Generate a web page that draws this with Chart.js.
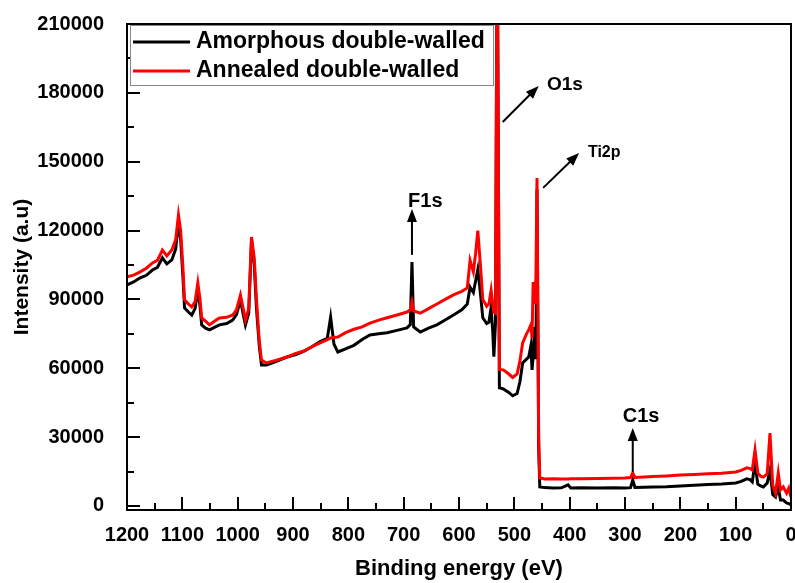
<!DOCTYPE html>
<html>
<head>
<meta charset="utf-8">
<script src="https://cdn.jsdelivr.net/npm/chart.js@4.4.1/dist/chart.umd.min.js"></script>
<style>
  body { margin: 0; background: #fff; }
  #wrap { width: 795px; height: 583px; }
</style>
</head>
<body>
<div id="wrap"><canvas id="xps" width="795" height="583"></canvas></div>
<script>
// binding energy (eV), shared by both spectra
var energy = [1200,1188,1177,1165,1154,1145,1136,1128,1119,1112,1107,1103,1099,1096,1089,1083,1077,1072,1068,1065,
  1058,1051,1042,1033,1020,1009,1002,995,990,986,980,975,970,966,961,957,948,930,911,895,880,865,852,838,832,826,819,
  805,790,775,761,745,730,712,694,688,685,682,670,655,640,625,610,595,585,580,574,570,566,561,557,550,546,542,539,537,
  534,531,527,520,510,503,495,490,485,478,474,470,468,466,463,461,459,456,454,445,430,415,403,398,380,350,320,300,290,
  286,282,265,250,225,200,175,150,125,100,90,80,74,70,65,60,55,50,43,38,33,28,23,19,14,8,4,0]

var amorphous = [96300,97600,99300,100500,102800,104000,108100,105500,107200,112000,123700,116000,100000,86300,84500,83200,86000,94100,87000,78900,
  77500,76700,77800,78900,79500,81000,83500,89800,83500,78900,84000,115900,105000,86000,70000,61400,61400,63000,64900,66000,67500,69500,71500,73000,82300,70500,67100,
  68500,70000,72500,74500,75000,75500,76500,77600,79000,106300,78000,75800,77500,78900,81000,83200,85500,88000,95300,93000,98000,103000,92000,82000,79500,80000,86500,76000,65000,
  80000,258000,51500,51000,49500,48000,49000,54000,62300,64000,64900,70000,59300,65000,78000,64000,138000,25000,8300,8000,7800,7900,9200,7800,7900,7800,7900,7800,8000,
  11300,8100,8200,8300,8400,8700,9000,9400,9600,10000,10700,11800,11500,10500,18700,9500,8800,8300,10000,15500,5000,3900,8300,2600,2600,1300,1000,500]

var annealed = [99800,100600,101900,103600,105900,107000,111500,109000,111500,116000,126800,120000,104000,89800,88000,86700,89000,97200,90000,81900,
  80500,78900,80500,81900,82200,83200,85500,91900,86000,81000,86000,117200,108000,89800,72000,63600,62300,63500,64900,66500,67500,69500,71000,72500,73200,73400,73600,
  75500,77000,78000,79700,81000,82000,83200,84500,85500,88900,85000,84000,86000,88000,90000,92000,93500,95000,107000,102000,110000,120000,104000,90000,87000,88000,94000,88000,84500,
  84000,260000,59500,59300,57500,56000,57500,63000,71000,75000,76700,79000,73000,97600,88000,100000,142900,30000,12200,11800,11900,11800,11800,11900,11900,12000,12100,12200,12400,
  14400,12400,12600,12800,13100,13500,13700,14000,14300,14800,15500,16600,16300,15700,24400,14400,13000,12600,14000,31800,9000,5600,14400,7000,8300,5600,7800,3900]

var seriesNames = ['Amorphous double-walled', 'Annealed double-walled']
var yTicks = [0, 30000, 60000, 90000, 120000, 150000, 180000, 210000]

// peak labels: arrow tail, arrow tip and text anchor in data units
var peaks = [
  { text: 'O1s',  from: [521, 167300], to: [456, 183000], at: [441, 183400], size: 19 },
  { text: 'Ti2p', from: [448, 138600], to: [383, 153800], at: [367, 153800], size: 16 },
  { text: 'F1s',  from: [685, 109400], to: [685, 129400], at: [692, 132500], size: 20 },
  { text: 'C1s',  from: [286, 14800],  to: [286, 34000],  at: [304, 38800],  size: 20 }
]

var FONT = '"Liberation Sans", Arial, sans-serif'

function toPoints(ys) {
  return energy.map(function (e, i) { return { x: e, y: ys[i] } })
}

function plain(v) { return String(v) }

function arrow(ctx, x1, y1, x2, y2) {
  var ang = Math.atan2(y2 - y1, x2 - x1)
  var hl = 13, hw = 5
  ctx.beginPath()
  ctx.moveTo(x1, y1)
  ctx.lineTo(x2 - Math.cos(ang) * hl * 0.8, y2 - Math.sin(ang) * hl * 0.8)
  ctx.stroke()
  ctx.beginPath()
  ctx.moveTo(x2, y2)
  ctx.lineTo(x2 - Math.cos(ang) * hl - Math.sin(ang) * hw, y2 - Math.sin(ang) * hl + Math.cos(ang) * hw)
  ctx.lineTo(x2 - Math.cos(ang) * hl + Math.sin(ang) * hw, y2 - Math.sin(ang) * hl - Math.cos(ang) * hw)
  ctx.closePath()
  ctx.fill()
}

var decor = {
  id: 'decor',
  afterDatasetsDraw: function (chart) {
    var ctx = chart.ctx, a = chart.chartArea, x = chart.scales.x, y = chart.scales.y
    ctx.save()
    ctx.strokeStyle = '#000'
    ctx.fillStyle = '#000'
    ctx.lineWidth = 2
    ctx.strokeRect(a.left, a.top, a.right - a.left, a.bottom - a.top)

    // inward ticks
    for (var e = 0; e <= 1200; e += 50) {
      var px = Math.round(x.getPixelForValue(e))
      var len = e % 100 === 0 ? 13 : 7
      ctx.beginPath(); ctx.moveTo(px, a.bottom); ctx.lineTo(px, a.bottom - len); ctx.stroke()
    }
    for (var v = 0; v <= 210000; v += 15000) {
      var py = Math.round(y.getPixelForValue(v))
      var l2 = v % 30000 === 0 ? 13 : 7
      ctx.beginPath(); ctx.moveTo(a.left, py); ctx.lineTo(a.left + l2, py); ctx.stroke()
    }

    // legend box
    ctx.fillStyle = '#fff'
    ctx.fillRect(130, 25, 363, 60)
    ctx.strokeStyle = '#888'
    ctx.lineWidth = 1
    ctx.strokeRect(130.5, 25.5, 363, 60)
    var cols = ['#000', '#ff0000']
    ctx.font = 'bold 23px ' + FONT
    ctx.textBaseline = 'middle'
    ctx.textAlign = 'left'
    for (var i = 0; i < 2; i++) {
      var ly = 42 + i * 29
      ctx.strokeStyle = cols[i]
      ctx.lineWidth = 3
      ctx.beginPath(); ctx.moveTo(133, ly); ctx.lineTo(190, ly); ctx.stroke()
      ctx.fillStyle = '#000'
      ctx.fillText(seriesNames[i], 196, ly)
    }

    // peak arrows and labels
    ctx.strokeStyle = '#000'
    ctx.fillStyle = '#000'
    ctx.lineWidth = 2
    peaks.forEach(function (p) {
      arrow(ctx, x.getPixelForValue(p.from[0]), y.getPixelForValue(p.from[1]),
        x.getPixelForValue(p.to[0]), y.getPixelForValue(p.to[1]))
      ctx.font = 'bold ' + p.size + 'px ' + FONT
      ctx.fillText(p.text, x.getPixelForValue(p.at[0]), y.getPixelForValue(p.at[1]))
    })
    ctx.restore()
  }
}

var chart = new Chart(document.getElementById('xps').getContext('2d'), {
  type: 'line',
  data: {
    datasets: [{
      label: seriesNames[0],
      data: toPoints(amorphous),
      borderColor: '#000',
      backgroundColor: '#000',
      borderWidth: 3,
      pointRadius: 0,
      order: 1
    }, {
      label: seriesNames[1],
      data: toPoints(annealed),
      borderColor: '#ff0000',
      backgroundColor: '#ff0000',
      borderWidth: 3,
      pointRadius: 0,
      order: 0
    }]
  },
  options: {
    responsive: false,
    animation: false,
    layout: { padding: { left: 0, right: 4, top: 24, bottom: 0 } },
    plugins: { legend: { display: false }, tooltip: { enabled: false } },
    scales: {
      x: {
        type: 'linear',
        reverse: true,
        min: 0,
        max: 1200,
        grid: { display: false },
        border: { display: false },
        ticks: { stepSize: 100, color: '#000', padding: 5, maxRotation: 0, callback: plain, font: { family: FONT, size: 20, weight: 'bold' } },
        title: { display: true, text: 'Binding energy (eV)', color: '#000', padding: { top: 0, bottom: 1 }, font: { family: FONT, size: 22, weight: 'bold' } },
        afterFit: function (s) { s.height = 73; s.paddingLeft = 0; s.paddingRight = 0 }
      },
      y: {
        min: -1750,
        max: 210000,
        grid: { display: false },
        border: { display: false },
        afterBuildTicks: function (s) { s.ticks = yTicks.map(function (v) { return { value: v } }) },
        ticks: { color: '#000', padding: 15, callback: plain, font: { family: FONT, size: 20, weight: 'bold' } },
        title: { display: true, text: 'Intensity (a.u)', color: '#000', padding: { top: 10, bottom: 0 }, font: { family: FONT, size: 21, weight: 'bold' } },
        afterFit: function (s) { s.width = 127; s.paddingTop = 0; s.paddingBottom = 0 }
      }
    }
  },
  plugins: [decor]
})
</script>
</body>
</html>
